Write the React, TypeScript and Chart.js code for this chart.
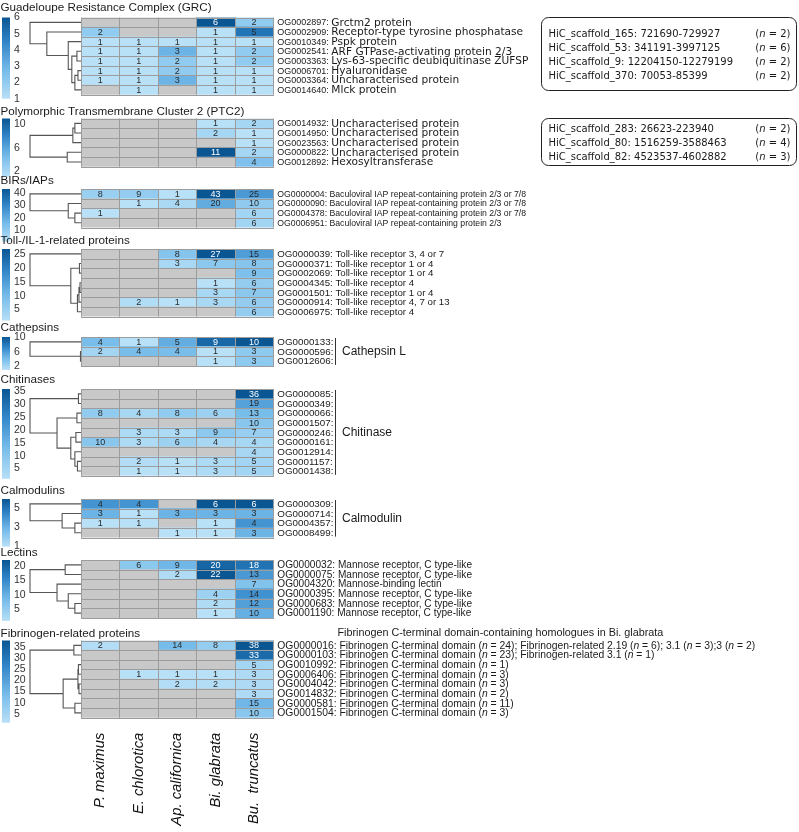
import React, { useEffect, useRef } from 'react';
import { Chart, registerables } from 'chart.js';

Chart.register(...registerables);

type Tree = number | [number, Tree, Tree];

// ---------------- DATA ----------------
const species = ['P. maximus', 'E. chlorotica', 'Ap. californica', 'Bi. glabrata', 'Bu.  truncatus'];

// Guadeloupe Resistance Complex
const grcTitle = 'Guadeloupe Resistance Complex (GRC)';
const grcOGs = ['OG0002897', 'OG0002909', 'OG0010349', 'OG0002541', 'OG0003363', 'OG0006701', 'OG0003364', 'OG0014640'];
const grcDesc = ['Grctm2 protein', 'Receptor-type tyrosine phosphatase', 'Pspk protein', 'ARF GTPase-activating protein 2/3', 'Lys-63-specific deubiquitinase ZUFSP', 'Hyaluronidase', 'Uncharacterised protein', 'Mlck protein'];
const grcCounts = [[0, 0, 0, 6, 2], [2, 0, 0, 1, 5], [1, 1, 1, 1, 1], [1, 1, 3, 1, 2], [1, 1, 2, 1, 2], [1, 1, 2, 1, 1], [1, 1, 3, 1, 1], [0, 1, 0, 1, 1]];
const grcTree: Tree = [1, 0, [0.67, 1, [0.25, 2, [0.18, [0.08, 3, 4], [0.12, [0.06, 5, 6], 7]]]]];
const grcTicks = [1, 2, 3, 4, 5, 6];
const grcScaffolds = ['HiC_scaffold_165: 721690-729927', 'HiC_scaffold_53: 341191-3997125', 'HiC_scaffold_9: 12204150-12279199', 'HiC_scaffold_370: 70053-85399'];
const grcScaffoldN = [2, 6, 2, 2];

// Polymorphic Transmembrane Cluster 2
const ptcTitle = 'Polymorphic Transmembrane Cluster 2 (PTC2)';
const ptcOGs = ['OG0014932', 'OG0014950', 'OG0023563', 'OG0000822', 'OG0012892'];
const ptcDesc = ['Uncharacterised protein', 'Uncharacterised protein', 'Uncharacterised protein', 'Uncharacterised protein', 'Hexosyltransferase'];
const ptcCounts = [[0, 0, 0, 1, 2], [0, 0, 0, 2, 1], [0, 0, 0, 0, 1], [0, 0, 0, 11, 2], [0, 0, 0, 0, 4]];
const ptcTree: Tree = [1, [0.16, [0.12, 0, 1], 2], [0.27, 3, 4]];
const ptcTicks = [2, 6, 10];
const ptcScaffolds = ['HiC_scaffold_283: 26623-223940', 'HiC_scaffold_80: 1516259-3588463', 'HiC_scaffold_82: 4523537-4602882'];
const ptcScaffoldN = [2, 4, 3];

// BIRs / IAPs
const birTitle = 'BIRs/IAPs';
const birOGs = ['OG0000004', 'OG0000090', 'OG0004378', 'OG0006951'];
const birDesc = ['Baculoviral IAP repeat-containing protein 2/3 or 7/8', 'Baculoviral IAP repeat-containing protein 2/3 or 7/8', 'Baculoviral IAP repeat-containing protein 2/3 or 7/8', 'Baculoviral IAP repeat-containing protein 2/3'];
const birCounts = [[8, 9, 1, 43, 25], [0, 1, 4, 20, 10], [1, 0, 0, 0, 6], [0, 0, 0, 0, 6]];
const birTree: Tree = [1, 0, [0.25, 1, [0.12, 2, 3]]];
const birTicks = [10, 20, 30, 40];

// Toll / IL-1
const tollTitle = 'Toll-/IL-1-related proteins';
const tollOGs = ['OG0000039', 'OG0000371', 'OG0002069', 'OG0004345', 'OG0001501', 'OG0000914', 'OG0006975'];
const tollDesc = ['Toll-like receptor 3, 4 or 7', 'Toll-like receptor 1 or 4', 'Toll-like receptor 1 or 4', 'Toll-like receptor 4', 'Toll-like receptor 1 or 4', 'Toll-like receptor 4, 7 or 13', 'Toll-like receptor 4'];
const tollCounts = [[0, 0, 8, 27, 15], [0, 0, 3, 7, 8], [0, 0, 0, 0, 9], [0, 0, 0, 1, 6], [0, 0, 0, 3, 7], [0, 2, 1, 3, 6], [0, 0, 0, 0, 6]];
const tollTree: Tree = [1, 0, [0.2, [0.03, 1, 2], [0.07, [0.04, [0.02, 3, 4], 5], 6]]];
const tollTicks = [5, 10, 15, 20, 25];

// Cathepsins
const cathTitle = 'Cathepsins';
const cathOGs = ['OG0000133', 'OG0000596', 'OG0012606'];
const cathGroup = 'Cathepsin L';
const cathCounts = [[4, 1, 5, 9, 10], [2, 4, 4, 1, 3], [0, 0, 0, 1, 3]];
const cathTree: Tree = [1, 0, [0.01, 1, 2]];
const cathTicks = [2, 6, 10];

// Chitinases
const chitTitle = 'Chitinases';
const chitOGs = ['OG0000085', 'OG0000349', 'OG0000066', 'OG0001507', 'OG0000246', 'OG0000161', 'OG0012914', 'OG0001157', 'OG0001438'];
const chitGroup = 'Chitinase';
const chitCounts = [[0, 0, 0, 0, 36], [0, 0, 0, 0, 19], [8, 4, 8, 6, 13], [0, 0, 0, 0, 10], [0, 3, 3, 9, 7], [10, 3, 6, 4, 4], [0, 0, 0, 0, 4], [0, 2, 1, 3, 5], [0, 1, 1, 3, 5]];
const chitTree: Tree = [1, [0.05, 0, 1], [0.47, [0.08, 2, 3], [0.2, [0.1, 4, 5], [0.12, 6, [0.07, 7, 8]]]]];
const chitTicks = [5, 10, 15, 20, 25, 30, 35];

// Calmodulins
const calmTitle = 'Calmodulins';
const calmOGs = ['OG0000309', 'OG0000714', 'OG0004357', 'OG0008499'];
const calmGroup = 'Calmodulin';
const calmCounts = [[4, 4, 0, 6, 6], [3, 1, 3, 3, 3], [1, 1, 0, 1, 4], [0, 0, 1, 1, 3]];
const calmTree: Tree = [1, 0, [0.37, 1, [0.12, 2, 3]]];
const calmTicks = [1, 3, 5];

// Lectins
const lectTitle = 'Lectins';
const lectOGs = ['OG0000032', 'OG0000075', 'OG0004320', 'OG0000395', 'OG0000683', 'OG0001190'];
const lectDesc = ['Mannose receptor, C type-like', 'Mannose receptor, C type-like', 'Mannose-binding lectin', 'Mannose receptor, C type-like', 'Mannose receptor, C type-like', 'Mannose receptor, C type-like'];
const lectCounts = [[0, 6, 9, 20, 18], [0, 0, 2, 22, 13], [0, 0, 0, 0, 7], [0, 0, 0, 4, 14], [0, 0, 0, 2, 12], [0, 0, 0, 1, 10]];
const lectTree: Tree = [1, [0.31, 0, 1], [0.47, 2, [0.25, 3, [0.12, 4, 5]]]];
const lectTicks = [5, 10, 15, 20];

// Fibrinogen-related
const fibTitle = 'Fibrinogen-related proteins';
const fibHeader = 'Fibrinogen C-terminal domain-containing homologues in Bi. glabrata';
const fibOGs = ['OG0000016', 'OG0000103', 'OG0010992', 'OG0006406', 'OG0004042', 'OG0014832', 'OG0000581', 'OG0001504'];
const fibDesc = [
  'Fibrinogen C-terminal domain (n = 24); Fibrinogen-related 2.19 (n = 6); 3.1 (n = 3);3 (n = 2)',
  'Fibrinogen C-terminal domain (n = 23); Fibrinogen-related 3.1 (n = 1)',
  'Fibrinogen C-terminal domain (n = 1)',
  'Fibrinogen C-terminal domain (n = 3)',
  'Fibrinogen C-terminal domain (n = 3)',
  'Fibrinogen C-terminal domain (n = 2)',
  'Fibrinogen C-terminal domain (n = 11)',
  'Fibrinogen C-terminal domain (n = 3)',
];
const fibCounts = [[2, 0, 14, 8, 38], [0, 0, 0, 0, 33], [0, 0, 0, 0, 5], [0, 1, 1, 1, 3], [0, 0, 2, 2, 3], [0, 0, 0, 0, 3], [0, 0, 0, 0, 15], [0, 0, 0, 0, 10]];
const fibTree: Tree = [1, [0.14, 0, 1], [0.35, [0.06, [0.05, 2, 3], [0.04, 4, 5]], [0.12, 6, 7]]];
const fibTicks = [5, 10, 15, 20, 25, 30, 35];

// ---------------- LAYOUT / STYLE ----------------
const W = 799;
const H = 832;
const ROW_H = 9.65;
const HM_LEFT = 81;
const HM_RIGHT = 273.3;
const ROOT_X = 30;
const ARIAL = '"Liberation Sans", Arial, Helvetica, sans-serif';
const VERD = '"DejaVu Sans", Verdana, sans-serif';
const GRAY = '#c8c8c8';
const GRID = '#9c9c9c';

interface Panel {
  title: string;
  ogs: string[];
  counts: number[][];
  tree: Tree;
  ticks: number[];
  desc?: string[];
  group?: string;
  header?: string;
  scaffolds?: string[];
  scaffoldN?: number[];
  top: number;
  titleOff: number;
  cbExtra: number;
  labelKind: 'verd' | 'arial' | 'group';
  labelSize: number;
  box?: { x: number; y: number; w: number; h: number };
  last?: boolean;
}

const panels: Panel[] = [
  { title: grcTitle, ogs: grcOGs, counts: grcCounts, tree: grcTree, ticks: grcTicks, desc: grcDesc, scaffolds: grcScaffolds, scaffoldN: grcScaffoldN, top: 17.5, titleOff: 10, cbExtra: 4, labelKind: 'verd', labelSize: 10.6, box: { x: 541.5, y: 17.5, w: 255, h: 73 } },
  { title: ptcTitle, ogs: ptcOGs, counts: ptcCounts, tree: ptcTree, ticks: ptcTicks, desc: ptcDesc, scaffolds: ptcScaffolds, scaffoldN: ptcScaffoldN, top: 118.5, titleOff: 7, cbExtra: 10, labelKind: 'verd', labelSize: 10.6, box: { x: 541.5, y: 118.5, w: 255, h: 47 } },
  { title: birTitle, ogs: birOGs, counts: birCounts, tree: birTree, ticks: birTicks, desc: birDesc, top: 189, titleOff: 8.5, cbExtra: 14, labelKind: 'arial', labelSize: 8.7 },
  { title: tollTitle, ogs: tollOGs, counts: tollCounts, tree: tollTree, ticks: tollTicks, desc: tollDesc, top: 249, titleOff: 8.5, cbExtra: 4, labelKind: 'arial', labelSize: 9.7 },
  { title: cathTitle, ogs: cathOGs, counts: cathCounts, tree: cathTree, ticks: cathTicks, group: cathGroup, top: 337, titleOff: 9.5, cbExtra: 4, labelKind: 'group', labelSize: 9.8 },
  { title: chitTitle, ogs: chitOGs, counts: chitCounts, tree: chitTree, ticks: chitTicks, group: chitGroup, top: 389, titleOff: 9, cbExtra: 3, labelKind: 'group', labelSize: 9.8 },
  { title: calmTitle, ogs: calmOGs, counts: calmCounts, tree: calmTree, ticks: calmTicks, group: calmGroup, top: 499, titleOff: 8.5, cbExtra: 9, labelKind: 'group', labelSize: 9.8 },
  { title: lectTitle, ogs: lectOGs, counts: lectCounts, tree: lectTree, ticks: lectTicks, desc: lectDesc, top: 560, titleOff: 7.5, cbExtra: 3, labelKind: 'arial', labelSize: 10.1 },
  { title: fibTitle, ogs: fibOGs, counts: fibCounts, tree: fibTree, ticks: fibTicks, desc: fibDesc, header: fibHeader, top: 640.5, titleOff: 7, cbExtra: 5, labelKind: 'arial', labelSize: 10.35, last: true },
];

const STOPS: [number, number[]][] = [
  [0, [184, 224, 247]],
  [0.35, [118, 188, 234]],
  [0.7, [48, 132, 199]],
  [1, [10, 86, 147]],
];

function cmap(t: number): string {
  const v = Math.max(0, Math.min(1, t));
  for (let k = 1; k < STOPS.length; k++) {
    const [t1, c1] = STOPS[k];
    const [t0, c0] = STOPS[k - 1];
    if (v <= t1) {
      const f = (v - t0) / (t1 - t0);
      const c = c0.map((a, i) => Math.round(a + (c1[i] - a) * f));
      return `rgb(${c[0]},${c[1]},${c[2]})`;
    }
  }
  return 'rgb(10,86,147)';
}

function drawRich(ctx: CanvasRenderingContext2D, text: string, x: number, y: number, size: number, family: string) {
  const parts = text.split(/(\bn\b(?= =))/);
  let cx = x;
  for (const part of parts) {
    if (!part) continue;
    ctx.font = part === 'n' ? `italic ${size}px ${family}` : `${size}px ${family}`;
    ctx.fillText(part, cx, y);
    cx += ctx.measureText(part).width;
  }
  return cx;
}

function geom(p: Panel) {
  const n = p.ogs.length;
  const canvasTop = Math.floor(p.top) - 17;
  const hmBottom = p.top + n * ROW_H;
  const canvasH = p.last ? H - canvasTop : Math.ceil(hmBottom + Math.max(12, p.cbExtra + 5)) - canvasTop;
  return { n, canvasTop, canvasH, padTop: p.top - canvasTop, padBottom: canvasH - (p.top - canvasTop) - n * ROW_H };
}

function makeDecor(p: Panel, canvasTop: number) {
  return {
    id: 'heatDecor',
    afterDatasetsDraw(chart: any) {
      const ctx: CanvasRenderingContext2D = chart.ctx;
      const ca = chart.chartArea;
      const xs = chart.scales.x;
      const ys = chart.scales.y;
      const n = p.ogs.length;
      const all = p.counts.flat();
      const vmax = Math.max(...all);
      const vmin = 1;
      const norm = (v: number) => (v - vmin) / (vmax - vmin);
      const rowY = (i: number) => ys.getPixelForValue(i);
      ctx.save();

      // grid lines between cells
      ctx.strokeStyle = GRID;
      ctx.lineWidth = 1;
      ctx.beginPath();
      for (let j = 0; j <= species.length; j++) {
        const x = Math.round(xs.getPixelForValue(j)) + 0.5;
        ctx.moveTo(x, ca.top);
        ctx.lineTo(x, ca.bottom);
      }
      for (let i = 0; i <= n; i++) {
        const y = Math.round(ys.getPixelForValue(i - 0.5)) + 0.5;
        ctx.moveTo(Math.round(ca.left), y);
        ctx.lineTo(Math.round(ca.right) + 1, y);
      }
      ctx.stroke();

      // cell values
      ctx.font = `9px ${ARIAL}`;
      ctx.textAlign = 'center';
      ctx.textBaseline = 'middle';
      for (let j = 0; j < species.length; j++) {
        const meta = chart.getDatasetMeta(j);
        meta.data.forEach((bar: any, i: number) => {
          const v = p.counts[i][j];
          if (!v) return;
          ctx.fillStyle = norm(v) > 0.805 ? '#ffffff' : '#2a2a2a';
          ctx.fillText(String(v), (bar.x + bar.base) / 2, bar.y + 0.5);
        });
      }

      // title
      ctx.textAlign = 'left';
      ctx.fillStyle = '#1a1a1a';
      ctx.font = `11.7px ${ARIAL}`;
      ctx.fillText(p.title, 0.5, ca.top - p.titleOff);

      // colour bar
      const cbTop = ca.top;
      const cbH = ca.bottom - ca.top + p.cbExtra;
      const grad = ctx.createLinearGradient(0, cbTop + cbH, 0, cbTop);
      for (let k = 0; k <= 10; k++) grad.addColorStop(k / 10, cmap(k / 10));
      ctx.fillStyle = grad;
      ctx.fillRect(2, cbTop, 8, cbH);
      ctx.fillStyle = '#333';
      ctx.font = `10.5px ${ARIAL}`;
      for (const t of p.ticks) {
        const y = cbTop + cbH - norm(t) * cbH;
        ctx.fillText(String(t), 14, y);
      }

      // dendrogram
      ctx.strokeStyle = '#555';
      ctx.lineWidth = 1.1;
      ctx.beginPath();
      const leafX = ca.left;
      const draw = (node: Tree): { x: number; y: number } => {
        if (typeof node === 'number') return { x: leafX, y: rowY(node) };
        const [h, a, b] = node;
        const A = draw(a);
        const B = draw(b);
        const x = leafX - h * (leafX - ROOT_X);
        ctx.moveTo(A.x, A.y);
        ctx.lineTo(x, A.y);
        ctx.lineTo(x, B.y);
        ctx.lineTo(B.x, B.y);
        return { x, y: (A.y + B.y) / 2 };
      };
      draw(p.tree);
      ctx.stroke();

      // row labels
      const x0 = ca.right + 4;
      ctx.fillStyle = '#1a1a1a';
      ctx.textAlign = 'left';
      ctx.textBaseline = 'middle';
      let descX = x0;
      for (let i = 0; i < n; i++) {
        const y = rowY(i) + 0.5;
        if (p.labelKind === 'verd') {
          ctx.font = `9px ${ARIAL}`;
          const lead = `${p.ogs[i]}: `;
          ctx.fillText(lead, x0, y);
          const w = ctx.measureText(lead).width;
          ctx.font = `${p.labelSize}px ${VERD}`;
          ctx.fillText(p.desc![i], x0 + w, y);
        } else if (p.labelKind === 'arial') {
          ctx.font = `${p.labelSize}px ${ARIAL}`;
          const lead = `${p.ogs[i]}: `;
          ctx.fillText(lead, x0, y);
          descX = x0 + ctx.measureText(lead).width;
          drawRich(ctx, p.desc![i], descX, y, p.labelSize, ARIAL);
        } else {
          ctx.font = `${p.labelSize}px ${ARIAL}`;
          ctx.fillText(`${p.ogs[i]}:`, x0, y);
        }
      }
      if (p.labelKind === 'group') {
        ctx.font = `${p.labelSize}px ${ARIAL}`;
        const lx = Math.round(x0 + ctx.measureText(`${p.ogs[0]}:`).width + 2) + 0.5;
        ctx.strokeStyle = '#333';
        ctx.lineWidth = 1;
        ctx.beginPath();
        ctx.moveTo(lx, ca.top + 1);
        ctx.lineTo(lx, ca.bottom - 1);
        ctx.stroke();
        ctx.font = `12px ${ARIAL}`;
        ctx.fillText(p.group!, lx + 6.5, (ca.top + ca.bottom) / 2);
      }
      if (p.header) {
        ctx.font = `10.8px ${ARIAL}`;
        ctx.fillText(p.header, descX - 2, ca.top - p.titleOff);
      }

      // scaffold box
      if (p.box && p.scaffolds) {
        const bx = p.box.x;
        const by = p.box.y - canvasTop;
        ctx.strokeStyle = '#222';
        ctx.lineWidth = 1;
        ctx.beginPath();
        (ctx as any).roundRect(bx, by, p.box.w, p.box.h, 7);
        ctx.stroke();
        const k = p.scaffolds.length;
        const lh = 14;
        const y0 = by + p.box.h / 2 + 1.5 - ((k - 1) * lh) / 2;
        ctx.fillStyle = '#1a1a1a';
        for (let i = 0; i < k; i++) {
          const y = y0 + i * lh;
          ctx.textAlign = 'left';
          ctx.font = `10px ${VERD}`;
          ctx.fillText(p.scaffolds[i], bx + 7, y);
          const tail = ` = ${p.scaffoldN![i]})`;
          const wTail = ctx.measureText(tail).width;
          const wOpen = ctx.measureText('(').width;
          ctx.font = `italic 10px ${VERD}`;
          const wN = ctx.measureText('n').width;
          const right = bx + p.box.w - 6;
          const start = right - wTail - wN - wOpen;
          ctx.font = `10px ${VERD}`;
          ctx.fillText('(', start, y);
          ctx.font = `italic 10px ${VERD}`;
          ctx.fillText('n', start + wOpen, y);
          ctx.font = `10px ${VERD}`;
          ctx.fillText(tail, start + wOpen + wN, y);
        }
      }

      // species labels
      if (p.last) {
        ctx.fillStyle = '#111';
        ctx.font = `italic 14.8px ${ARIAL}`;
        ctx.textAlign = 'right';
        ctx.textBaseline = 'middle';
        for (let j = 0; j < species.length; j++) {
          const x = xs.getPixelForValue(j + 0.5);
          const y = ca.bottom + 15;
          ctx.save();
          ctx.translate(x, y);
          ctx.rotate(-Math.PI / 2);
          ctx.fillText(species[j], 0, 0);
          ctx.restore();
        }
      }
      ctx.restore();
    },
  };
}

function HeatPanel({ p }: { p: Panel }) {
  const ref = useRef<HTMLCanvasElement>(null);
  const g = geom(p);
  useEffect(() => {
    if (!ref.current) return;
    const vmax = Math.max(...p.counts.flat());
    const chart = new Chart(ref.current, {
      type: 'bar',
      data: {
        labels: p.ogs,
        datasets: species.map((sp, j) => ({
          label: sp,
          data: p.counts.map(() => 1),
          backgroundColor: p.counts.map((r) => (r[j] ? cmap((r[j] - 1) / (vmax - 1)) : GRAY)),
          borderWidth: 0,
          barPercentage: 1,
          categoryPercentage: 1,
        })),
      },
      options: {
        indexAxis: 'y',
        responsive: false,
        animation: false,
        events: [],
        layout: { padding: { left: HM_LEFT, right: W - HM_RIGHT, top: g.padTop, bottom: g.padBottom } },
        plugins: { legend: { display: false }, tooltip: { enabled: false } },
        scales: {
          x: { type: 'linear', stacked: true, min: 0, max: species.length, display: false },
          y: { type: 'category', stacked: true, offset: true, display: false },
        },
      },
      plugins: [makeDecor(p, g.canvasTop)],
    } as any);
    return () => chart.destroy();
  }, [p]);
  return (
    <canvas
      ref={ref}
      width={W}
      height={g.canvasH}
      style={{ position: 'absolute', left: 0, top: g.canvasTop, width: W, height: g.canvasH }}
    />
  );
}

export default function App() {
  return (
    <div style={{ position: 'absolute', left: 0, top: 0, width: W, height: H, background: '#fff', overflow: 'hidden' }}>
      {panels.map((p, i) => (
        <HeatPanel key={i} p={p} />
      ))}
    </div>
  );
}
